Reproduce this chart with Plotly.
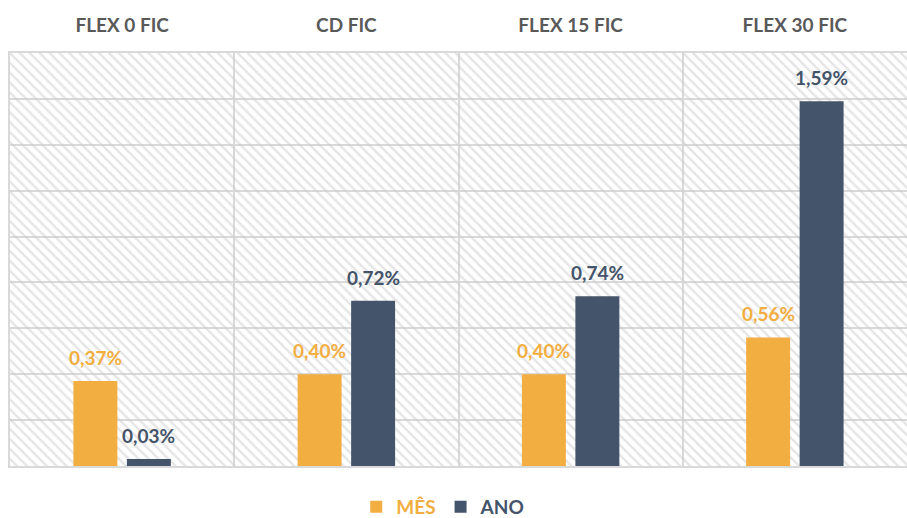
import plotly.graph_objects as go

categories = ["FLEX 0 FIC", "CD FIC", "FLEX 15 FIC", "FLEX 30 FIC"]
mes_values = [0.37, 0.40, 0.40, 0.56]
ano_values = [0.03, 0.72, 0.74, 1.59]
series_names = ["MÊS", "ANO"]
y_max = 1.8
y_step = 0.2

ORANGE = "#F2AE40"
NAVY = "#44546A"
GRID = "#D9D9D9"
FONT = "Lato"

# the capture squeezes the page a little vertically; vertical pixel sizes are scaled by KV
KV = 1.0155
W, H = 907, round(518 * KV)
ML, MR, MT, MB = 10, 0, round(52 * KV), round(52 * KV)
BARGAP, GROUPGAP = 0.523, 0.178
FS = 19

fig = go.Figure()

# hatched background (base subplot)
fig.add_trace(go.Bar(
    x=categories, y=[y_max] * len(categories), width=1,
    marker=dict(color="rgba(0,0,0,0)", line=dict(width=0),
                pattern=dict(shape="\\", fgcolor="#CCCCCC", bgcolor="rgba(0,0,0,0)",
                             size=7, solidity=0.35)),
    hoverinfo="skip", showlegend=False, xaxis="x", yaxis="y",
))

for name, vals, col in [(series_names[0], mes_values, ORANGE), (series_names[1], ano_values, NAVY)]:
    fig.add_trace(go.Bar(
        x=categories, y=vals,
        name=f"<span style='color:{col}'>{name}</span>",
        marker=dict(color=col, line=dict(width=0)),
        xaxis="x2", yaxis="y2",
    ))

# data labels
slot_px = (W - ML - MR) / len(categories) * (1 - BARGAP) / 2
for i, (vals, col) in enumerate([(mes_values, ORANGE), (ano_values, NAVY)]):
    shift = (i - 0.5) * slot_px
    for c, v in zip(categories, vals):
        fig.add_annotation(
            x=c, y=v, xref="x2", yref="y2", xshift=shift, yshift=10 * KV,
            text=f"{v:.2f}%".replace(".", ","), showarrow=False,
            yanchor="bottom", font=dict(family=FONT, size=FS, color=col, weight="bold"),
        )

plot_h = H - MT - MB
fig.update_layout(
    width=W, height=H,
    margin=dict(l=ML, r=MR, t=MT, b=MB),
    paper_bgcolor="white", plot_bgcolor="white",
    barmode="group", bargap=BARGAP, bargroupgap=GROUPGAP,
    font=dict(family=FONT),
    showlegend=True,
    legend=dict(orientation="h", x=0.483, xanchor="center", y=-41 * KV / plot_h, yanchor="middle",
                font=dict(family=FONT, size=FS, color=NAVY, weight="bold"), itemwidth=30,
                traceorder="normal"),
    xaxis=dict(type="category", side="top", tickson="boundaries", showgrid=True,
               gridcolor=GRID, gridwidth=1.5, ticks="", ticklabelstandoff=12,
               tickfont=dict(family=FONT, size=FS, color="#595959", weight="bold"),
               showline=True, linecolor=GRID, linewidth=1.5, mirror=True,
               fixedrange=True, automargin=False),
    yaxis=dict(range=[0, y_max], dtick=y_step, showgrid=True, gridcolor=GRID,
               gridwidth=1.5, showticklabels=False, ticks="", zeroline=False,
               showline=True, linecolor=GRID, linewidth=2, mirror=True, automargin=False),
    xaxis2=dict(type="category", overlaying="x", matches="x", visible=False,
                categoryorder="array", categoryarray=categories),
    yaxis2=dict(range=[0, y_max], overlaying="y", visible=False, showgrid=False),
)

fig.write_html(
    "out.html",
    config={"displayModeBar": False},
    post_script="document.body.style.margin='0';document.body.style.overflow='hidden';",
)
